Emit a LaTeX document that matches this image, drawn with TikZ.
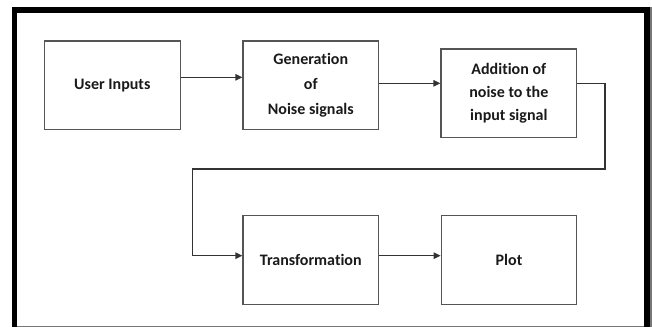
\documentclass[tikz,border=0pt]{standalone}
\usepackage{fontspec}
\setmainfont{Carlito}[Ligatures=NoCommon]
\usetikzlibrary{arrows.meta}
\definecolor{boxgray}{HTML}{555555}
\definecolor{linec}{HTML}{333333}
\definecolor{textc}{HTML}{1A1A1A}
\definecolor{framegray}{HTML}{777777}
\begin{document}
\begin{tikzpicture}[x=1pt,y=-1pt,
  blk/.style={draw=boxgray,line width=1.1pt,minimum width=135.7pt,minimum height=88.6pt,
    inner sep=0pt,align=center,text=textc,font=\bfseries\fontsize{16}{23.3}\selectfont},
  wide/.style={font=\bfseries\fontsize{16}{25}\selectfont},
  arr/.style={draw=linec,line width=1.2pt,-{Triangle[length=7pt,width=6.5pt]}}]
\useasboundingbox (0,0) rectangle (652,327);
\fill[white] (0,0) rectangle (652,327);
% outer frame
\draw[framegray,line width=1.4pt] (11.7,326.3) -- (652,326.3);
\draw[framegray,line width=2pt] (651,7.3) -- (651,327);
\draw[black,line width=5.6pt] (14.5,7.3) -- (14.5,327);
\draw[black,line width=5.4pt] (11.7,10) -- (650,10);
\draw[black,line width=5.7pt] (647.2,7.3) -- (647.2,327);
% blocks
\node[blk] (ui) at (112.3,85.3) {User Inputs};
\node[blk,wide] (gen) at (310.8,85.3) {Generation\\of\\Noise signals};
\node[blk] (add) at (508.8,93.3) {Addition of\\noise to the\\input signal};
\node[blk] (tr) at (310.8,260) {Transformation};
\node[blk] (pl) at (509,260) {Plot};
% connector coordinates
\coordinate (a1) at (0,77.3);
\coordinate (a2) at (0,83.3);
\coordinate (a3) at (0,255.7);
\coordinate (r1) at (605,83.3);
\coordinate (r2) at (605,169);
\coordinate (l1) at (192.3,169);
\coordinate (l2) at (192.3,255.7);
% connectors
\draw[arr] (ui.east |- a1) -- (gen.west |- a1);
\draw[arr] (gen.east |- a2) -- (add.west |- a2);
\draw[arr] (add.east |- a2) -- (r1) -- (r2) -- (l1) -- (l2) -- (tr.west |- a3);
\draw[arr] (tr.east |- a3) -- (pl.west |- a3);
\end{tikzpicture}
\end{document}
